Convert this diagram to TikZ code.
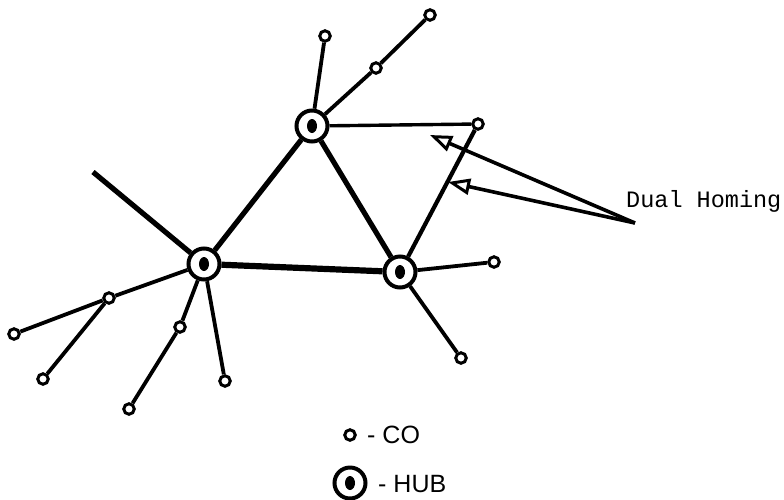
\documentclass[tikz,border=0pt]{standalone}
\usepackage{fontspec}
\usetikzlibrary{arrows.meta}
\newfontfamily\labelfont{Liberation Mono}
\newfontfamily\legendfont{Liberation Sans}
\begin{document}
\begin{tikzpicture}[x=1pt,y=-1pt,
  hub/.style={circle, draw, line width=4pt, minimum size=31pt, inner sep=0pt, fill=white},
  hubdot/.style={fill=black},
  co/.style={circle, draw, line width=3pt, minimum size=10.5pt, inner sep=0pt, fill=white},
  trunk/.style={line width=5.2pt},
  spoke/.style={line width=3.8pt},
  pointer/.style={line width=3.6pt, -{Triangle[open, length=22pt, width=16pt, line width=3pt]}},
  legendtext/.style={font=\legendfont\fontsize{25}{27}\selectfont, inner sep=0pt, anchor=base west}]
\useasboundingbox (0,0) rectangle (784,499);

% hubs
\node[hub] (hA) at (312,126) {};
\node[hub] (hB) at (400,272) {};
\node[hub] (hC) at (204,264) {};

% central offices
\node[co] (c1) at (478,124) {};
\node[co] (c2) at (494,262) {};
\node[co] (c3) at (461,358) {};
\node[co] (c4) at (325,36) {};
\node[co] (c5) at (376,68) {};
\node[co] (c6) at (430,15) {};
\node[co] (c7) at (109,298) {};
\node[co] (c8) at (14,334) {};
\node[co] (c9) at (43,379) {};
\node[co] (c10) at (180,327) {};
\node[co] (c11) at (129,409) {};
\node[co] (c12) at (225,381) {};
\coordinate (tail) at (93,172);

% hub centres
\foreach \h in {hA,hB,hC}
  \fill[hubdot] (\h.center) ellipse (5pt and 7pt);

% hub-to-hub trunks
\draw[trunk] (hA) -- (hC);
\draw[trunk] (hA) -- (hB);
\draw[trunk, line width=6.2pt] (hC) -- (hB);
\draw[trunk] (hC) -- (tail);

% dual-homed office
\draw[line width=3.4pt] (hA) -- (c1);
\draw[spoke, line width=4.2pt] (hB) -- (c1);

% spokes
\draw[spoke] (hA) -- (c4);
\draw[spoke] (hA) -- (c5);
\draw[spoke] (c5) -- (c6);
\draw[spoke] (hB) -- (c2);
\draw[spoke] (hB) -- (c3);
\draw[spoke] (hC) -- (c7);
\draw[spoke] (c7) -- (c8);
\draw[spoke] (c7) -- (c9);
\draw[spoke] (hC) -- (c10);
\draw[spoke] (c10) -- (c11);
\draw[spoke] (hC) -- (c12);

% annotation
\coordinate (src) at (635,223);
\coordinate (tip1) at (430,135);
\coordinate (tip2) at (448,182);
\draw[pointer] (src) -- (tip1);
\draw[pointer] (src) -- (tip2);
\node[font=\labelfont\fontsize{23.5}{26}\selectfont, inner sep=0pt, anchor=base west] (dual) at (626,207) {Dual Homing};

% legend
\node[co] (legco) at (350,435) {};
\node[hub] (leghub) at (350,483) {};
\fill[hubdot] (leghub.center) ellipse (5pt and 7pt);
\node[legendtext] (legcotext) at (367,443) {- CO};
\node[legendtext] (leghubtext) at (378,492) {- HUB};
\end{tikzpicture}
\end{document}
